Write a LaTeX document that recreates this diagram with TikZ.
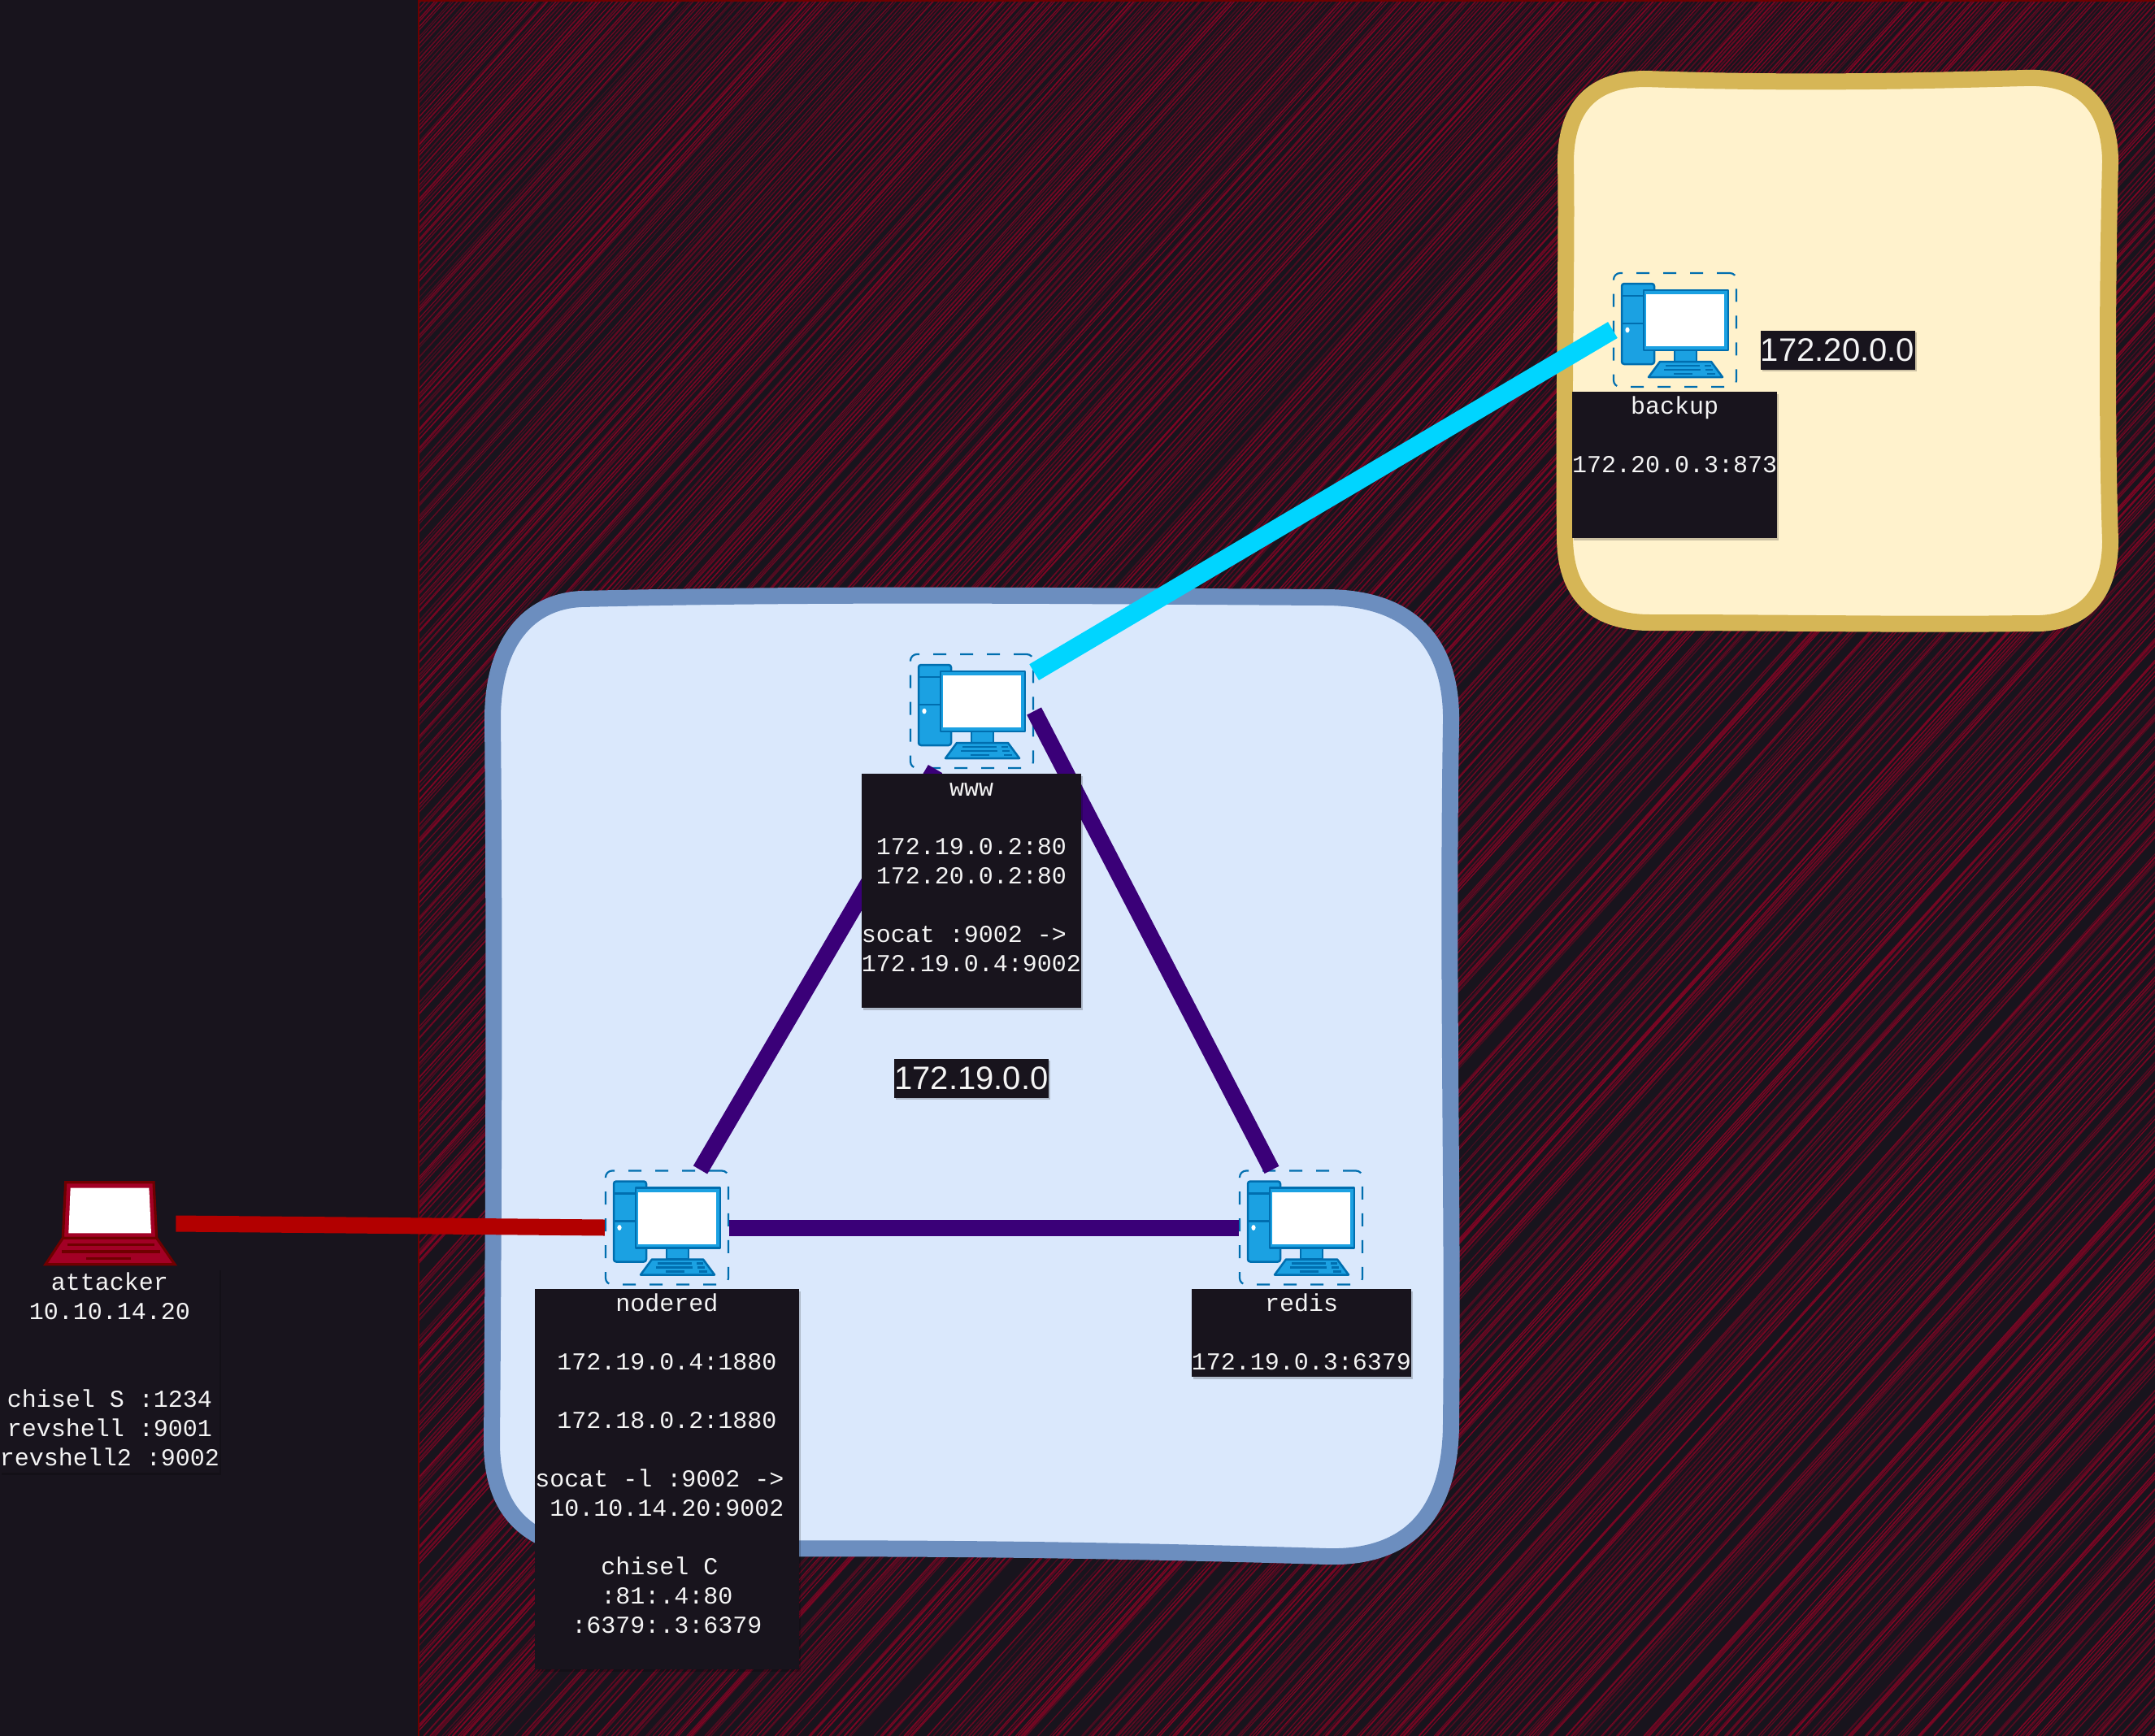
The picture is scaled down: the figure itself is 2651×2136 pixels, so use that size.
\documentclass[tikz,border=0pt]{standalone}
\usepackage{fontspec}
\usetikzlibrary{calc,shadows}
\newfontfamily\monofam{Liberation Mono}
\newfontfamily\sansfam{Liberation Sans}
\definecolor{bgdark}{HTML}{18141D}
\definecolor{hatchred}{HTML}{A20025}
\definecolor{edgered}{HTML}{6F0000}
\definecolor{pcfill}{HTML}{1BA1E2}
\definecolor{pcline}{HTML}{006EAF}
\definecolor{purplelink}{HTML}{3A0078}
\definecolor{cyanlink}{HTML}{00D5FF}
\definecolor{redlink}{HTML}{B20000}
\definecolor{txt}{HTML}{F4F4F4}
\newcommand{\lst}{\vrule height 13.5pt depth 4.5pt width 0pt\relax}
\newcommand{\tsp}{\mbox{~}}
\tikzset{
  x=0.5pt,y=-0.5pt,
  softshadow/.style={drop shadow={shadow xshift=1.2pt,shadow yshift=-1.2pt,opacity=.2,fill=black}},
  pcbox/.style={draw=pcline,line width=1.1pt,dash pattern=on 8pt off 8.5pt,rounded corners=4pt,
    minimum width=75.5pt,minimum height=70pt,inner sep=0pt},
  infobox/.style={fill=bgdark,text=txt,inner sep=0pt,anchor=north,align=center,softshadow,
    font=\monofam\fontsize{15}{18}\selectfont},
  netlabel/.style={fill=bgdark,text=txt,inner sep=0pt,minimum height=24pt,minimum width=95pt,softshadow,
    font=\sansfam\fontsize{20}{24}\selectfont},
  purplewire/.style={draw=purplelink,line width=10pt},
  pcstroke/.style={draw=pcline,line width=1.25pt,line join=round},
  lapstroke/.style={draw=edgered,line width=1.6pt,line join=miter},
}
\newcommand{\pcicon}[2]{%
  \begin{scope}[shift={(#1,#2)}]
    \draw[pcstroke,fill=pcfill,rounded corners=1.5pt] (10,13) rectangle (50,112);
    \draw[pcstroke] (10,28) -- (50,28) (10,62) -- (50,62);
    \fill[white] (17,70) ellipse (2.6 and 3.4);
    \draw[pcstroke,fill=pcfill] (75,95) rectangle (102,109);
    \draw[pcstroke,fill=pcfill] (57,109) -- (120,109) -- (134,128) -- (43,128) -- cycle;
    \draw[pcstroke] (64,114) -- (106,114) (112,114) -- (120,114)
      (62,119) -- (107,119) (113,119) -- (122,119)
      (74,124) -- (97,124) (115,124) -- (125,124);
    \draw[pcstroke,fill=pcfill] (37,21) rectangle (141,95);
    \fill[white] (40,26) rectangle (136,90);
  \end{scope}}
\begin{document}
\begin{tikzpicture}
\useasboundingbox (0,0) rectangle (2651,2136);
\fill[bgdark] (0,0) rectangle (2651,2136);
% hatched zone
\begin{scope}
  \clip (514,0) rectangle (2651,2136);
  \pgfmathsetseed{11}
  \foreach \i in {0,...,820}{
    \pgfmathsetmacro{\cx}{514+\i*5+3*rnd}
    \pgfmathsetmacro{\tilt}{-1930+40*(rnd-0.5)}
    \pgfmathsetmacro{\mixv}{30+45*rnd}
    \pgfmathsetmacro{\wd}{0.55+0.45*rnd}
    \draw[color=hatchred!\mixv!bgdark,line width=\wd pt] (\cx,0) -- (\cx+\tilt,2136);
  }
\end{scope}
\draw[edgered,line width=1.2pt] (515,2136) -- (515,1) -- (2651,1);
% zones
\path[fill={rgb,255:red,255;green,242;blue,204},draw={rgb,255:red,214;green,182;blue,86},line width=10pt]
  (2025,97) .. controls (2200,103) and (2350,100) .. (2490,96)
  .. controls (2560,93) and (2596,130) .. (2596,200)
  .. controls (2592,350) and (2592,550) .. (2596,665)
  .. controls (2596,735) and (2560,770) .. (2495,767)
  .. controls (2350,769) and (2200,766) .. (2030,766)
  .. controls (1960,766) and (1925,730) .. (1925,660)
  .. controls (1923,500) and (1928,300) .. (1926,200)
  .. controls (1926,130) and (1960,97) .. (2025,97) -- cycle;
\path[fill={rgb,255:red,218;green,232;blue,252},draw={rgb,255:red,108;green,142;blue,191},line width=10pt]
  (715,737) .. controls (1000,730) and (1300,733) .. (1630,735)
  .. controls (1735,735) and (1787,790) .. (1785,890)
  .. controls (1780,1200) and (1788,1500) .. (1785,1750)
  .. controls (1785,1860) and (1735,1918) .. (1632,1915)
  .. controls (1300,1905) and (1000,1903) .. (760,1908)
  .. controls (660,1910) and (605,1870) .. (605,1775)
  .. controls (608,1400) and (608,1100) .. (606,885)
  .. controls (606,790) and (650,740) .. (715,737) -- cycle;
% machines
\node[pcbox] (www) at (1195.5,875) {};
\node[pcbox] (nodered) at (820.5,1510.5) {};
\node[pcbox] (redis) at (1600.5,1510.5) {};
\node[pcbox] (backup) at (2060.5,406) {};
\node[minimum width=80.5pt,minimum height=51.5pt,inner sep=0pt] (attacker) at (135.5,1505.5) {};
\pcicon{1120}{805}
\pcicon{745}{1440.5}
\pcicon{1525}{1440.5}
\pcicon{1985}{336}
% laptop
\begin{scope}[shift={(30,1430)},x=0.16667pt,y=-0.16667pt]
  \draw[lapstroke,fill=hatchred] (152,74) -- (477,74) -- (488,280) -- (142,280) -- cycle;
  \draw[lapstroke,fill=hatchred] (142,280) -- (488,280) -- (555,377) -- (78,377) -- cycle;
  \fill[white] (170,95) -- (460,95) -- (468,262) -- (163,262) -- cycle;
  \draw[edgered,line width=1.6pt] (158,305) -- (480,305) (137,330) -- (500,330) (228,355) -- (393,355);
\end{scope}
% connectors
\draw[draw=cyanlink,line width=11.5pt] (www.32) -- (backup.west);
\draw[purplewire] (www.east) -- ($(redis.north)+(-36,0)$);
\draw[purplewire] ($(nodered.north)+(41,0)$) -- ($(www.south)+(-45,0)$);
\draw[purplewire] (nodered.east) -- (redis.west);
\draw[draw=redlink,line width=10pt] (attacker.east) -- (nodered.west);
% info boxes
\node[infobox] (wwwinfo) at (1195,952) {\lst www\\ \\172.19.0.2:80\\172.20.0.2:80\\ \\socat :9002 ->\tsp\\172.19.0.4:9002\\ \lst};
\node[infobox] (backupinfo) at (2060,482) {\lst backup\\ \\172.20.0.3:873\\ \\ \lst};
\node[infobox] (redisinfo) at (1601,1586) {\lst redis\\ \\172.19.0.3:6379\lst};
\node[infobox] (noderedinfo) at (820.5,1586) {\lst nodered\\ \\172.19.0.4:1880\\ \\172.18.0.2:1880\\ \\socat -l :9002 ->\tsp\\\tsp 10.10.14.20:9002\tsp\\ \\chisel C\tsp\\:81:.4:80\\:6379:.3:6379\\ \lst};
\node[infobox] (attackerinfo) at (135,1560) {\lst attacker\\10.10.14.20\\ \\ \\chisel S :1234\\revshell :9001\\revshell2 :9002\lst};
\node[netlabel] (net19) at (1195,1326.5) {172.19.0.0};
\node[netlabel] (net20) at (2260.5,431) {172.20.0.0};
\end{tikzpicture}
\end{document}
